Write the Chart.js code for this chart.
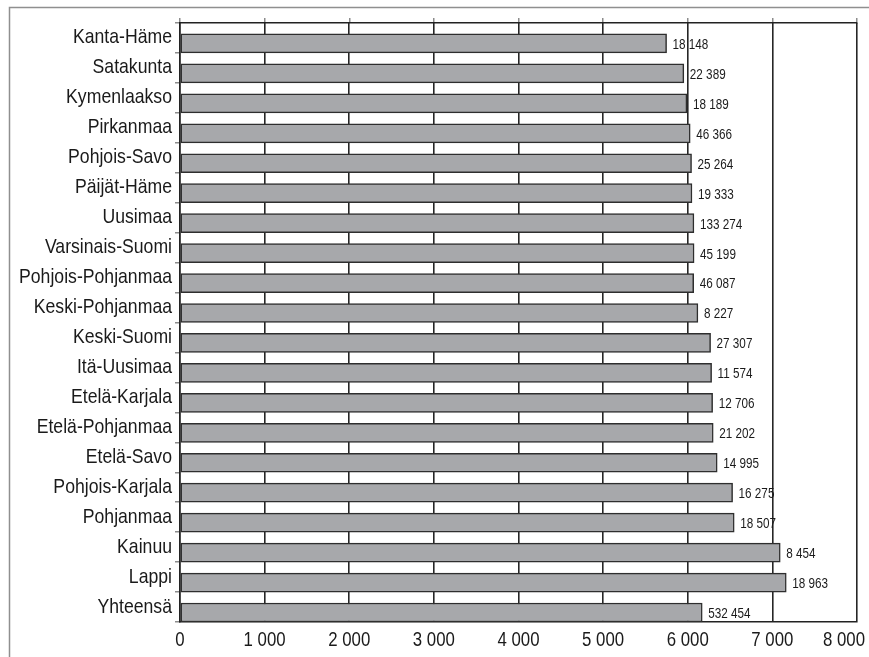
<!DOCTYPE html>
<html>
<head>
<meta charset="utf-8">
<script src="https://cdn.jsdelivr.net/npm/chart.js@4/dist/chart.umd.min.js"></script>
<style>
  html, body { margin: 0; padding: 0; background: #ffffff; }
  canvas { display: block; }
</style>
</head>
<body>
<canvas id="chart" width="869" height="657"></canvas>
<script>
// Regions, top to bottom
const regions = [
  'Kanta-Häme', 'Satakunta', 'Kymenlaakso', 'Pirkanmaa', 'Pohjois-Savo',
  'Päijät-Häme', 'Uusimaa', 'Varsinais-Suomi', 'Pohjois-Pohjanmaa', 'Keski-Pohjanmaa',
  'Keski-Suomi', 'Itä-Uusimaa', 'Etelä-Karjala', 'Etelä-Pohjanmaa', 'Etelä-Savo',
  'Pohjois-Karjala', 'Pohjanmaa', 'Kainuu', 'Lappi', 'Yhteensä'
];

// Bar length per region (axis 0–8 000)
const barValues = [
  5750, 5954, 5990, 6029, 6045,
  6050, 6073, 6075, 6070, 6120,
  6270, 6282, 6294, 6301, 6348,
  6530, 6549, 7093, 7164, 6171
];

// Count printed next to each bar
const countValues = [
  18148, 22389, 18189, 46366, 25264,
  19333, 133274, 45199, 46087, 8227,
  27307, 11574, 12706, 21202, 14995,
  16275, 18507, 8454, 18963, 532454
];

// Axis tick labels
const xTickLabels = ['0', '1 000', '2 000', '3 000', '4 000', '5 000', '6 000', '7 000', '8 000'];

// Narrow lettering: Liberation Sans squeezed horizontally
const FAMILY = "'Liberation Sans', Arial, sans-serif";
const INK = '#1a1a1a';

function narrowText(ctx, text, x, y, size, squeeze, align) {
  ctx.save();
  ctx.font = size + 'px ' + FAMILY;
  ctx.fillStyle = INK;
  ctx.textAlign = align;
  ctx.textBaseline = 'alphabetic';
  ctx.translate(x, y);
  ctx.scale(squeeze, 1);
  ctx.fillText(text, 0, 0);
  ctx.restore();
}

// Finnish style thousands grouping with a space
function groupThousands(n) {
  return String(n).replace(/\B(?=(\d{3})+(?!\d))/g, ' ');
}

// White page with a thin grey frame along the top and left edges
const pageFrame = {
  id: 'pageFrame',
  beforeDraw(chart) {
    const { ctx, width, height } = chart;
    ctx.save();
    ctx.fillStyle = '#ffffff';
    ctx.fillRect(0, 0, width, height);
    ctx.strokeStyle = '#8f8f8f';
    ctx.lineWidth = 1.5;
    ctx.beginPath();
    ctx.moveTo(9.5, height);
    ctx.lineTo(9.5, 7.5);
    ctx.lineTo(width, 7.5);
    ctx.stroke();
    ctx.restore();
  }
};

// Axis labels placed at the scales' own tick positions
const axisLabels = {
  id: 'axisLabels',
  afterDraw(chart) {
    const { ctx, chartArea } = chart;
    const y = chart.scales.y;
    const x = chart.scales.x;
    y.ticks.forEach((t, i) => {
      narrowText(ctx, regions[i], y.right - 8, y.getPixelForTick(i) + 5.5, 21, 0.84, 'right');
    });
    x.ticks.forEach((t, i) => {
      const px = x.getPixelForTick(i);
      const last = i === x.ticks.length - 1;
      narrowText(ctx, xTickLabels[i], last ? chart.width - 4 : px, chartArea.bottom + 24,
        20.5, 0.82, last ? 'right' : 'center');
    });
  }
};

// Bars sit at the bottom of their category band; counts follow each bar end
const barsAndCounts = {
  id: 'barsAndCounts',
  _drop(chart) {
    const meta = chart.getDatasetMeta(0);
    const band = chart.chartArea.height / regions.length;
    const bar = meta.data[0];
    return bar ? (band - bar.height) / 2 : 0;
  },
  beforeDatasetsDraw(chart) {
    chart.ctx.save();
    chart.ctx.translate(0, this._drop(chart));
  },
  afterDatasetsDraw(chart) {
    const { ctx } = chart;
    ctx.restore();
    const drop = this._drop(chart);
    const meta = chart.getDatasetMeta(0);
    meta.data.forEach((bar, i) => {
      narrowText(ctx, groupThousands(countValues[i]), bar.x + 6, bar.y + drop + 5.4, 15, 0.78, 'left');
    });
  }
};

new Chart(document.getElementById('chart'), {
  type: 'bar',
  data: {
    labels: regions,
    datasets: [{
      data: barValues,
      backgroundColor: '#a7a8ab',
      borderColor: '#2e2e2e',
      borderWidth: 1.5,
      borderSkipped: false,
      barThickness: 19,
      xAxisID: 'x',
      yAxisID: 'y'
    }]
  },
  options: {
    indexAxis: 'y',
    responsive: false,
    animation: false,
    devicePixelRatio: 1,
    layout: { padding: { top: 18, right: 12, bottom: 0, left: 0 } },
    plugins: {
      legend: { display: false },
      tooltip: { enabled: false }
    },
    scales: {
      x: {
        type: 'linear',
        position: 'bottom',
        min: 0,
        max: 8000,
        ticks: { display: false, stepSize: 1000 },
        grid: { color: '#262626', lineWidth: 1.6, drawTicks: false },
        border: { color: '#222222', width: 1.5 },
        afterFit(scale) {
          scale.height = 35;
          scale.paddingRight = 0;
          scale.paddingLeft = 0;
        }
      },
      x2: {
        type: 'linear',
        position: 'top',
        min: 0,
        max: 8000,
        ticks: { display: false, stepSize: 1000 },
        grid: { drawOnChartArea: false, tickLength: 5, tickColor: '#8c8c8c', lineWidth: 1.5 },
        border: { color: '#222222', width: 1.5 }
      },
      y: {
        type: 'category',
        ticks: { display: false, autoSkip: false },
        grid: {
          offset: true,
          drawOnChartArea: false,
          tickLength: 5,
          tickColor: '#8c8c8c',
          lineWidth: 1.5
        },
        border: { color: '#222222', width: 1.5 },
        afterFit(scale) {
          scale.width = 180;
        }
      }
    }
  },
  plugins: [pageFrame, axisLabels, barsAndCounts]
});
</script>
</body>
</html>
